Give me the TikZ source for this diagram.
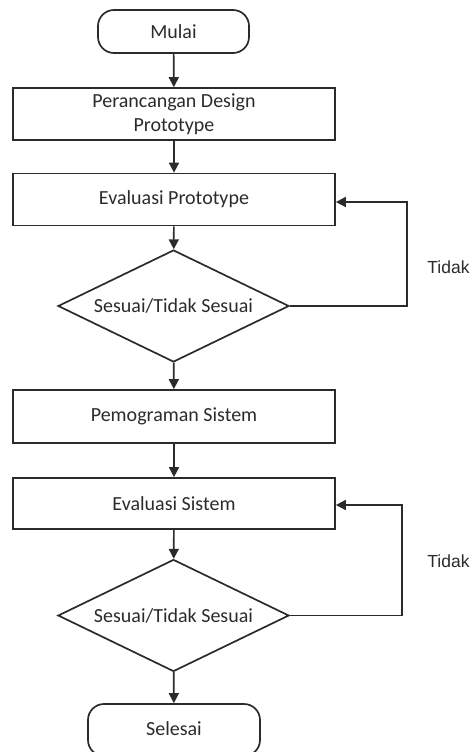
\documentclass[tikz,border=0pt]{standalone}
\usepackage{fontspec}
\setmainfont{Carlito}
\newfontfamily\arialf{Liberation Sans}
\usetikzlibrary{shapes.geometric,arrows.meta}
\definecolor{ln}{HTML}{2B2B2B}
\begin{document}
\begin{tikzpicture}[x=1pt,y=-1pt,
  every node/.style={font=\fontsize{20}{24}\selectfont, text=ln},
  proc/.style={draw=ln, line width=1.7pt, minimum width=322pt, minimum height=52pt, inner sep=0pt, align=center},
  term/.style={draw=ln, line width=1.7pt, rounded corners=16pt, inner sep=0pt},
  dec/.style={draw=ln, diamond, aspect=2.06, minimum width=231pt, minimum height=112pt, inner sep=0pt, line width=1.7pt},
  conn/.style={draw=ln, line width=1.7pt, -{Triangle[length=10pt,width=10pt]}},
  lbl/.style={font=\arialf\fontsize{17.5}{20}\selectfont, text=ln}
]
\useasboundingbox (0,0) rectangle (473,752);
\node[term, minimum width=151pt, minimum height=43pt] (start) at (173.5,31.5) {Mulai};
\node[proc] (p1) at (174,114) {Perancangan Design\\Prototype};
\node[proc] (p2) at (174,199.5) {Evaluasi Prototype};
\node[dec] (d1) at (173.5,306) {Sesuai/Tidak Sesuai};
\node[proc, minimum height=53pt] (p3) at (174,416.5) {Pemograman Sistem};
\node[proc, minimum height=51pt] (p4) at (174,503.5) {Evaluasi Sistem};
\node[dec] (d2) at (173.5,615.5) {Sesuai/Tidak Sesuai};
\node[term, minimum width=172pt, minimum height=52pt] (end) at (174,730) {\raisebox{3pt}{Selesai}};
\node[lbl] (t1) at (448.5,267) {Tidak};
\node[lbl] (t2) at (448.5,561) {Tidak};

\draw[conn] (start) -- (p1);
\draw[conn] (p1) -- (p2);
\draw[conn] (p2) -- (d1);
\draw[conn] (d1) -- (p3);
\draw[conn] (p3) -- (p4);
\draw[conn] (p4) -- (d2);
\draw[conn] (d2) -- (end);
\coordinate (r1) at (407,306);
\coordinate (r2) at (402,615.5);
\draw[conn] (d1.east) -- (r1) |- ([yshift=-2.5pt]p2.east);
\draw[conn] (d2.east) -- (r2) |- ([yshift=-1.5pt]p4.east);
\end{tikzpicture}
\end{document}
